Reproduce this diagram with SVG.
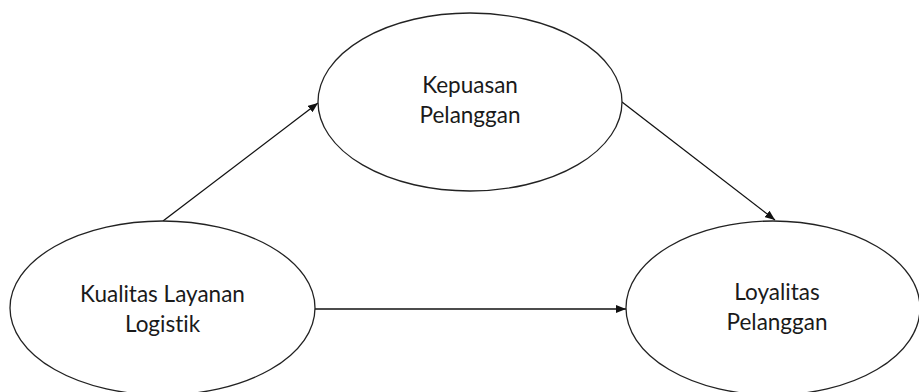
<svg xmlns="http://www.w3.org/2000/svg" width="919" height="392" viewBox="0 0 919 392">
<style>
.node ellipse{fill:#fff;stroke:#222;stroke-width:1.3}
.node text{font-family:Lato,"Liberation Sans",sans-serif;font-size:22.5px;fill:#1a1a1a;text-anchor:middle;font-variant-ligatures:none}
.edge{stroke:#111;stroke-width:1.3;fill:none;marker-end:url(#ah)}
</style>
<defs>
<marker id="ah" viewBox="0 0 10 8" refX="10" refY="4" markerWidth="10" markerHeight="8" markerUnits="userSpaceOnUse" orient="auto">
<path d="M0,0 L10,4 L0,8 z" fill="#111"/>
</marker>
</defs>
<rect width="919" height="392" fill="#fff"/>
<g id="connectors">
<line class="edge" x1="163" y1="221" x2="318" y2="103"/>
<line class="edge" x1="622" y1="102" x2="775" y2="220"/>
<line class="edge" x1="315" y1="309" x2="626" y2="309"/>
</g>
<g id="kepuasan" class="node">
<ellipse cx="470" cy="102" rx="152" ry="89"/>
<text x="470" y="93">Kepuasan</text>
<text x="470" y="123">Pelanggan</text>
</g>
<g id="kualitas" class="node">
<ellipse cx="162.5" cy="308" rx="152.5" ry="87"/>
<text x="162.5" y="302">Kualitas Layanan</text>
<text x="162.5" y="332">Logistik</text>
</g>
<g id="loyalitas" class="node">
<ellipse cx="773" cy="308" rx="147" ry="87"/>
<text x="777" y="300">Loyalitas</text>
<text x="777" y="330">Pelanggan</text>
</g>
</svg>
